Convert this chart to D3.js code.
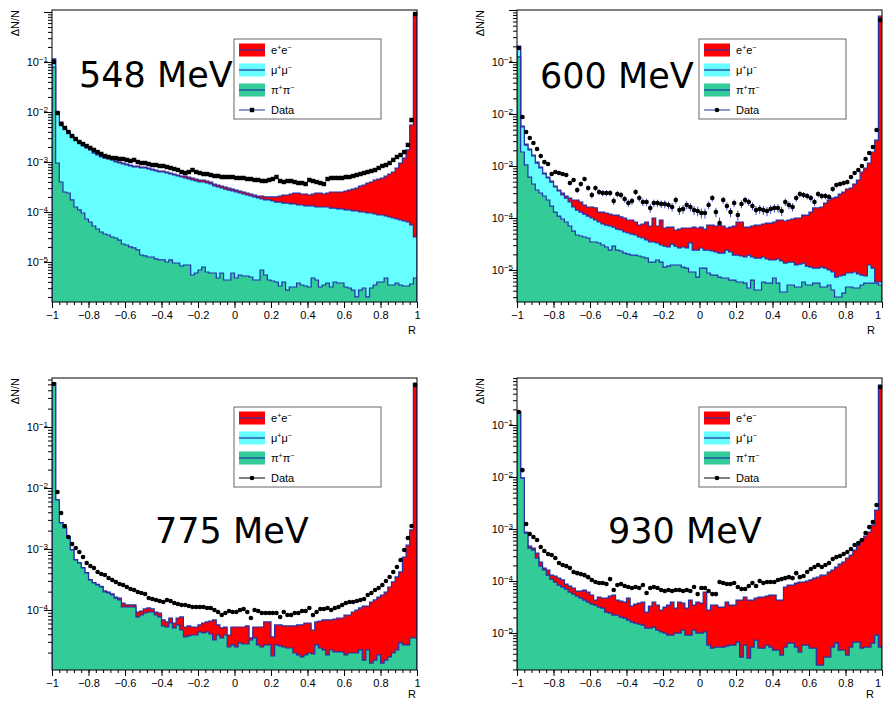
<!DOCTYPE html>
<html><head><meta charset="utf-8">
<script src="https://cdn.jsdelivr.net/npm/d3@7/dist/d3.min.js"></script>
<style>body{margin:0;background:#fff}svg{display:block}</style>
</head><body>
<svg id="c" width="883" height="701"></svg>
<script>
// ---------- binning / axis categories ----------
const nBins = 100, rLow = -1, rHigh = 1;
const xTickValues = [-1,-0.8,-0.6,-0.4,-0.2,0,0.2,0.4,0.6,0.8,1];
const xTickLabels = ["\u22121","\u22120.8","\u22120.6","\u22120.4","\u22120.2","0","0.2","0.4","0.6","0.8","1"];
const legendNames = [["e","+","e","\u2212"],["\u03bc","+","\u03bc","\u2212"],["\u03c0","+","\u03c0","\u2212"],["Data"]];
const energyLabels = ["548 MeV","600 MeV","775 MeV","930 MeV"];

// ---------- 548 MeV (stack tops as drawn: pi+pi-, +mu+mu-, +e+e-) ----------
const pipi548 = [0.079,9.55e-4,3.98e-4,2.51e-4,2.40e-4,1.74e-4,1.26e-4,1.10e-4,9.55e-5,7.24e-5,
 6.31e-5,5.25e-5,4.57e-5,3.98e-5,3.63e-5,3.47e-5,3.16e-5,3.02e-5,2.75e-5,2.29e-5,
 2.19e-5,2.00e-5,1.91e-5,1.74e-5,1.38e-5,1.32e-5,1.26e-5,1.26e-5,1.15e-5,1.10e-5,
 1.10e-5,1.00e-5,1.10e-5,9.55e-6,9.55e-6,8.32e-6,8.71e-6,8.71e-6,5.50e-6,6.03e-6,
 6.92e-6,7.94e-6,6.31e-6,6.03e-6,6.03e-6,4.79e-6,6.03e-6,4.37e-6,4.37e-6,6.03e-6,
 4.79e-6,5.50e-6,5.25e-6,5.25e-6,5.01e-6,4.37e-6,4.37e-6,6.92e-6,5.50e-6,4.37e-6,
 4.17e-6,3.98e-6,3.31e-6,3.98e-6,2.75e-6,3.16e-6,3.16e-6,3.80e-6,3.47e-6,3.31e-6,
 3.16e-6,4.79e-6,4.37e-6,3.16e-6,3.47e-6,3.80e-6,3.16e-6,3.98e-6,3.80e-6,3.80e-6,
 3.16e-6,3.02e-6,2.75e-6,2.00e-6,2.75e-6,3.02e-6,2.00e-6,3.02e-6,3.47e-6,3.98e-6,
 3.98e-6,4.79e-6,3.47e-6,3.47e-6,3.80e-6,3.47e-6,3.31e-6,3.31e-6,3.63e-6,4.79e-6];
const pipiMumu548 = [0.110,9.55e-3,6.03e-3,4.79e-3,3.80e-3,3.16e-3,2.75e-3,2.40e-3,2.09e-3,1.91e-3,
 1.74e-3,1.51e-3,1.38e-3,1.26e-3,1.20e-3,1.15e-3,1.10e-3,1.00e-3,9.55e-4,9.12e-4,
 8.71e-4,8.32e-4,7.94e-4,7.94e-4,7.59e-4,7.59e-4,7.24e-4,6.92e-4,6.61e-4,6.31e-4,
 6.31e-4,6.03e-4,5.75e-4,5.50e-4,5.25e-4,5.01e-4,4.79e-4,4.57e-4,4.37e-4,4.17e-4,
 3.98e-4,3.98e-4,3.80e-4,3.63e-4,3.31e-4,3.16e-4,3.02e-4,2.88e-4,2.75e-4,2.63e-4,
 2.51e-4,2.40e-4,2.29e-4,2.19e-4,2.09e-4,2.00e-4,1.91e-4,1.82e-4,1.74e-4,1.74e-4,
 1.66e-4,1.58e-4,1.58e-4,1.51e-4,1.51e-4,1.45e-4,1.45e-4,1.38e-4,1.38e-4,1.32e-4,
 1.32e-4,1.32e-4,1.26e-4,1.26e-4,1.26e-4,1.26e-4,1.20e-4,1.20e-4,1.15e-4,1.15e-4,
 1.10e-4,1.10e-4,1.05e-4,1.05e-4,1.00e-4,1.00e-4,9.55e-5,9.55e-5,9.12e-5,8.71e-5,
 8.71e-5,8.32e-5,7.94e-5,7.59e-5,7.24e-5,6.92e-5,6.61e-5,6.31e-5,5.50e-5,3.16e-5];
const total548 = [0.115,1.00e-2,6.31e-3,5.01e-3,3.98e-3,3.31e-3,2.88e-3,2.51e-3,2.19e-3,2.00e-3,
 1.82e-3,1.58e-3,1.45e-3,1.32e-3,1.26e-3,1.20e-3,1.15e-3,1.05e-3,1.00e-3,9.55e-4,
 9.12e-4,8.71e-4,8.32e-4,8.32e-4,7.94e-4,7.94e-4,7.59e-4,7.24e-4,6.92e-4,6.61e-4,
 6.61e-4,6.31e-4,6.03e-4,5.75e-4,5.50e-4,5.25e-4,5.25e-4,5.01e-4,4.79e-4,4.57e-4,
 4.37e-4,4.37e-4,4.17e-4,3.98e-4,3.63e-4,3.47e-4,3.31e-4,3.16e-4,3.02e-4,2.88e-4,
 2.75e-4,2.63e-4,2.51e-4,2.40e-4,2.29e-4,2.19e-4,2.09e-4,2.09e-4,2.00e-4,2.00e-4,
 2.00e-4,2.00e-4,2.09e-4,2.19e-4,2.19e-4,2.29e-4,2.40e-4,2.40e-4,2.29e-4,2.29e-4,
 2.19e-4,2.29e-4,2.40e-4,2.40e-4,2.29e-4,2.40e-4,2.51e-4,2.51e-4,2.51e-4,2.51e-4,
 2.63e-4,2.75e-4,2.88e-4,3.02e-4,3.31e-4,3.47e-4,3.80e-4,3.98e-4,4.37e-4,4.57e-4,
 4.79e-4,5.25e-4,5.75e-4,6.31e-4,7.59e-4,9.55e-4,1.20e-3,1.74e-3,5.50e-3,0.912];
const data548 = [0.100,9.55e-3,5.75e-3,4.79e-3,3.98e-3,3.31e-3,2.88e-3,2.51e-3,2.29e-3,2.09e-3,
 1.91e-3,1.74e-3,1.58e-3,1.45e-3,1.32e-3,1.26e-3,1.20e-3,1.20e-3,1.15e-3,1.15e-3,
 1.10e-3,1.05e-3,1.10e-3,1.00e-3,9.55e-4,9.55e-4,9.12e-4,8.71e-4,8.71e-4,8.32e-4,
 8.32e-4,7.94e-4,7.59e-4,7.24e-4,6.92e-4,6.31e-4,6.03e-4,6.31e-4,6.92e-4,6.31e-4,
 6.03e-4,5.75e-4,5.75e-4,5.50e-4,5.25e-4,5.25e-4,5.01e-4,5.01e-4,5.01e-4,5.01e-4,
 4.79e-4,4.79e-4,4.79e-4,4.57e-4,4.57e-4,4.37e-4,4.37e-4,4.17e-4,4.17e-4,4.37e-4,
 4.57e-4,5.01e-4,4.17e-4,3.98e-4,4.17e-4,4.17e-4,3.98e-4,3.80e-4,3.80e-4,3.63e-4,
 4.37e-4,4.17e-4,3.98e-4,3.80e-4,3.63e-4,4.57e-4,4.79e-4,4.79e-4,4.79e-4,4.79e-4,
 5.01e-4,5.01e-4,5.25e-4,5.50e-4,5.75e-4,6.03e-4,6.31e-4,6.61e-4,6.92e-4,7.59e-4,
 8.32e-4,8.71e-4,9.55e-4,1.10e-3,1.26e-3,1.38e-3,1.58e-3,2.19e-3,6.92e-3,0.912];

// ---------- 600 MeV ----------
const pipi600 = [0.125,1.86e-3,1.05e-3,6.14e-4,4.51e-4,3.46e-4,3.03e-4,2.65e-4,2.22e-4,1.70e-4,
 1.30e-4,1.09e-4,9.57e-5,8.38e-5,7.02e-5,5.62e-5,4.71e-5,4.51e-5,4.31e-5,4.13e-5,
 3.46e-5,3.46e-5,3.31e-5,3.03e-5,2.77e-5,2.42e-5,2.89e-5,2.42e-5,2.32e-5,2.12e-5,
 2.03e-5,1.94e-5,1.94e-5,1.86e-5,1.78e-5,1.70e-5,1.42e-5,1.42e-5,1.56e-5,1.42e-5,
 1.14e-5,1.19e-5,1.25e-5,1.25e-5,1.25e-5,1.14e-5,1.09e-5,9.15e-6,9.15e-6,7.33e-6,
 1.09e-5,1.09e-5,8.76e-6,8.01e-6,8.01e-6,7.33e-6,7.02e-6,7.02e-6,6.42e-6,6.42e-6,
 5.88e-6,5.88e-6,5.62e-6,4.51e-6,6.42e-6,4.13e-6,4.13e-6,5.88e-6,5.62e-6,5.62e-6,
 7.02e-6,5.62e-6,3.78e-6,3.78e-6,5.15e-6,5.15e-6,4.71e-6,4.71e-6,5.88e-6,5.15e-6,
 5.15e-6,5.62e-6,5.62e-6,4.71e-6,4.71e-6,5.15e-6,4.13e-6,3.03e-6,3.03e-6,3.61e-6,
 4.71e-6,4.71e-6,4.51e-6,4.51e-6,5.15e-6,5.62e-6,5.62e-6,5.62e-6,5.62e-6,5.15e-6];
const pipiMumu600 = [0.194,5.62e-3,2.53e-3,2.03e-3,1.56e-3,1.14e-3,9.15e-4,7.02e-4,5.88e-4,4.92e-4,
 3.95e-4,3.31e-4,2.77e-4,2.42e-4,2.03e-4,1.63e-4,1.42e-4,1.30e-4,1.19e-4,1.09e-4,
 1.00e-4,9.15e-5,8.38e-5,7.67e-5,7.33e-5,7.02e-5,6.71e-5,6.14e-5,5.88e-5,5.38e-5,
 5.15e-5,4.92e-5,4.71e-5,4.31e-5,4.13e-5,3.78e-5,3.46e-5,3.46e-5,3.31e-5,3.03e-5,
 2.89e-5,2.77e-5,3.16e-5,2.89e-5,2.65e-5,2.77e-5,2.65e-5,3.31e-5,2.42e-5,2.42e-5,
 2.65e-5,2.42e-5,2.42e-5,2.32e-5,2.22e-5,2.12e-5,2.12e-5,2.42e-5,2.22e-5,1.94e-5,
 1.94e-5,1.86e-5,1.78e-5,1.94e-5,1.78e-5,1.70e-5,1.70e-5,1.78e-5,1.63e-5,1.56e-5,
 1.56e-5,1.63e-5,1.49e-5,1.36e-5,1.42e-5,1.42e-5,1.25e-5,1.30e-5,1.36e-5,1.19e-5,
 1.14e-5,1.09e-5,1.09e-5,1.14e-5,1.09e-5,1.00e-5,9.15e-6,7.33e-6,7.67e-6,8.01e-6,
 8.76e-6,8.76e-6,9.15e-6,8.38e-6,8.01e-6,7.67e-6,1.25e-5,1.09e-5,5.88e-6,5.88e-6];
const total600 = [0.203,5.88e-3,2.65e-3,2.12e-3,1.63e-3,1.19e-3,9.57e-4,7.33e-4,6.14e-4,5.15e-4,
 4.13e-4,3.46e-4,3.03e-4,2.65e-4,2.42e-4,2.22e-4,2.22e-4,2.03e-4,1.78e-4,1.63e-4,
 1.63e-4,1.56e-4,1.30e-4,1.30e-4,1.25e-4,1.19e-4,1.14e-4,1.14e-4,1.05e-4,1.00e-4,
 9.15e-5,9.15e-5,8.38e-5,7.33e-5,7.67e-5,8.38e-5,7.02e-5,1.00e-4,7.02e-5,9.15e-5,
 6.42e-5,6.71e-5,6.71e-5,5.88e-5,6.14e-5,6.42e-5,6.42e-5,6.42e-5,6.71e-5,6.42e-5,
 6.71e-5,6.14e-5,7.33e-5,7.33e-5,7.02e-5,7.33e-5,7.02e-5,6.42e-5,6.71e-5,7.02e-5,
 8.38e-5,8.38e-5,6.71e-5,6.71e-5,7.02e-5,7.33e-5,7.33e-5,7.67e-5,8.01e-5,8.01e-5,
 8.38e-5,9.15e-5,9.15e-5,8.76e-5,9.15e-5,9.57e-5,1.00e-4,1.00e-4,1.14e-4,1.14e-4,
 1.30e-4,1.56e-4,1.56e-4,1.63e-4,1.94e-4,2.22e-4,2.42e-4,2.53e-4,2.89e-4,3.16e-4,
 3.61e-4,3.78e-4,4.51e-4,5.38e-4,7.67e-4,9.15e-4,1.14e-3,1.86e-3,3.16e-3,0.767];
const data600 = [0.186,8.76e-3,4.51e-3,3.46e-3,2.77e-3,2.12e-3,1.56e-3,1.19e-3,1.09e-3,7.02e-4,
 7.67e-4,7.33e-4,7.02e-4,6.71e-4,4.71e-4,5.38e-4,3.46e-4,4.51e-4,5.62e-4,3.78e-4,
 2.77e-4,3.78e-4,3.16e-4,3.03e-4,3.03e-4,3.03e-4,2.12e-4,2.89e-4,2.77e-4,2.32e-4,
 1.94e-4,2.12e-4,3.16e-4,2.42e-4,2.03e-4,2.03e-4,1.56e-4,1.94e-4,1.94e-4,1.86e-4,
 1.86e-4,1.78e-4,1.63e-4,2.22e-4,1.42e-4,1.49e-4,1.78e-4,1.63e-4,1.42e-4,1.36e-4,
 1.25e-4,1.25e-4,1.78e-4,2.42e-4,1.30e-4,8.01e-5,2.22e-4,1.70e-4,1.30e-4,1.94e-4,
 1.14e-4,1.86e-4,2.22e-4,2.03e-4,1.70e-4,1.42e-4,1.49e-4,1.42e-4,1.36e-4,1.49e-4,
 1.56e-4,1.56e-4,1.36e-4,2.03e-4,1.78e-4,1.63e-4,2.42e-4,2.89e-4,2.77e-4,2.65e-4,
 2.42e-4,2.03e-4,2.89e-4,2.65e-4,2.65e-4,2.53e-4,3.61e-4,4.31e-4,4.51e-4,4.71e-4,
 4.92e-4,6.14e-4,7.33e-4,8.38e-4,1.00e-3,1.36e-3,1.78e-3,2.32e-3,4.92e-3,0.642];
const dataErr600 = [0.003,2e-4,1.5e-4,1.3e-4,1.2e-4,1.1e-4,9e-5,8e-5,8e-5,6e-5,
 6e-5,6e-5,6e-5,6e-5,5e-5,5e-5,4.5e-5,5e-5,5.5e-5,4.5e-5,
 4e-5,4.5e-5,4e-5,4e-5,4e-5,4e-5,3.5e-5,4e-5,4e-5,3.5e-5,
 3.2e-5,3.4e-5,4e-5,3.6e-5,3.3e-5,3.3e-5,3e-5,3.2e-5,3.2e-5,3.2e-5,
 3.2e-5,3.1e-5,3e-5,3.5e-5,2.8e-5,2.9e-5,3.1e-5,3e-5,2.8e-5,2.8e-5,
 2.7e-5,2.7e-5,3.1e-5,3.6e-5,2.7e-5,2.2e-5,3.4e-5,3e-5,2.7e-5,3.2e-5,
 2.5e-5,3.2e-5,3.4e-5,3.3e-5,3e-5,2.8e-5,2.9e-5,2.8e-5,2.8e-5,2.9e-5,
 2.9e-5,2.9e-5,2.8e-5,3.3e-5,3.1e-5,3e-5,3.6e-5,3.9e-5,3.8e-5,3.7e-5,
 3.6e-5,3.3e-5,3.9e-5,3.7e-5,3.7e-5,3.6e-5,4.3e-5,4.7e-5,4.8e-5,4.9e-5,
 5e-5,5.6e-5,6e-5,6.5e-5,7e-5,8e-5,9e-5,1e-4,1.5e-4,0.002];

// ---------- 775 MeV (no visible mu+mu- layer) ----------
const pipi775 = [0.526,6.36e-3,2.67e-3,2.21e-3,1.57e-3,9.63e-4,6.60e-4,5.90e-4,4.88e-4,4.04e-4,
 3.10e-4,2.77e-4,2.57e-4,2.38e-4,1.97e-4,1.90e-4,1.76e-4,1.57e-4,1.46e-4,1.12e-4,
 1.12e-4,1.12e-4,1.12e-4,7.68e-5,8.28e-5,8.93e-5,9.27e-5,9.27e-5,8.28e-5,7.68e-5,
 5.47e-5,5.26e-5,6.12e-5,5.07e-5,5.68e-5,4.70e-5,3.61e-5,3.75e-5,3.89e-5,3.89e-5,
 4.36e-5,4.20e-5,4.36e-5,4.04e-5,3.22e-5,3.89e-5,3.48e-5,3.89e-5,2.47e-5,2.67e-5,
 2.47e-5,2.88e-5,2.77e-5,2.77e-5,3.22e-5,3.48e-5,2.67e-5,2.47e-5,2.67e-5,2.67e-5,
 1.76e-5,2.67e-5,2.57e-5,2.47e-5,2.38e-5,2.38e-5,1.97e-5,1.83e-5,1.70e-5,1.83e-5,
 1.97e-5,1.90e-5,2.67e-5,2.38e-5,2.21e-5,1.83e-5,2.21e-5,2.05e-5,2.05e-5,2.05e-5,
 1.83e-5,1.97e-5,1.97e-5,1.97e-5,2.21e-5,1.51e-5,2.21e-5,1.35e-5,1.51e-5,1.83e-5,
 1.35e-5,1.51e-5,1.70e-5,1.97e-5,2.21e-5,2.88e-5,2.67e-5,2.67e-5,3.48e-5,3.48e-5];
const total775 = [0.530,6.40e-3,2.70e-3,2.23e-3,1.59e-3,9.80e-4,6.70e-4,6.00e-4,4.95e-4,4.10e-4,
 3.15e-4,2.82e-4,2.62e-4,2.43e-4,2.05e-4,1.97e-4,1.83e-4,1.63e-4,1.57e-4,1.30e-4,
 1.21e-4,1.21e-4,1.21e-4,9.27e-5,9.63e-5,1.04e-4,1.08e-4,1.04e-4,9.27e-5,8.93e-5,
 6.86e-5,6.36e-5,7.39e-5,6.12e-5,7.39e-5,7.68e-5,5.26e-5,5.47e-5,5.26e-5,5.26e-5,
 5.68e-5,6.12e-5,6.36e-5,6.60e-5,6.86e-5,5.68e-5,5.07e-5,5.26e-5,3.89e-5,5.26e-5,
 5.26e-5,5.26e-5,5.26e-5,5.47e-5,3.48e-5,5.26e-5,5.26e-5,5.26e-5,6.36e-5,6.36e-5,
 3.61e-5,5.68e-5,5.68e-5,5.47e-5,5.47e-5,5.47e-5,5.47e-5,5.68e-5,5.68e-5,6.12e-5,
 6.12e-5,4.70e-5,6.36e-5,6.60e-5,6.86e-5,6.86e-5,6.86e-5,7.12e-5,7.39e-5,7.39e-5,
 8.28e-5,8.28e-5,9.27e-5,1.00e-4,1.08e-4,1.16e-4,1.16e-4,1.35e-4,1.46e-4,1.63e-4,
 1.76e-4,1.97e-4,2.38e-4,2.88e-4,3.48e-4,4.20e-4,7.39e-4,1.16e-3,2.05e-3,0.526];
const data775 = [0.507,8.60e-3,3.89e-3,2.38e-3,1.57e-3,1.21e-3,1.04e-3,8.93e-4,7.39e-4,5.90e-4,
 5.26e-4,4.88e-4,4.20e-4,3.89e-4,3.75e-4,3.35e-4,3.10e-4,2.88e-4,2.67e-4,2.57e-4,
 2.38e-4,2.21e-4,2.13e-4,1.97e-4,1.90e-4,1.83e-4,1.57e-4,1.51e-4,1.46e-4,1.40e-4,
 1.35e-4,1.46e-4,1.40e-4,1.30e-4,1.25e-4,1.21e-4,1.21e-4,1.16e-4,1.12e-4,1.12e-4,
 1.12e-4,1.12e-4,1.08e-4,1.08e-4,1.00e-4,9.27e-5,8.28e-5,8.93e-5,9.63e-5,9.27e-5,
 9.27e-5,1.00e-4,1.04e-4,9.27e-5,7.39e-5,1.00e-4,9.63e-5,8.93e-5,8.93e-5,8.93e-5,
 8.93e-5,8.93e-5,7.68e-5,9.27e-5,8.28e-5,8.28e-5,8.93e-5,8.93e-5,9.63e-5,9.63e-5,
 1.08e-4,8.28e-5,9.27e-5,1.04e-4,1.04e-4,1.08e-4,1.00e-4,1.08e-4,1.12e-4,1.21e-4,
 1.30e-4,1.35e-4,1.35e-4,1.40e-4,1.46e-4,1.51e-4,1.76e-4,1.90e-4,2.13e-4,2.29e-4,
 2.57e-4,2.99e-4,3.48e-4,4.20e-4,5.07e-4,6.60e-4,9.63e-4,1.51e-3,2.38e-3,0.488];

// ---------- 930 MeV (no visible mu+mu- layer) ----------
const pipi930 = [0.178,9.57e-3,8.38e-4,4.31e-4,3.95e-4,2.77e-4,1.94e-4,1.63e-4,1.30e-4,1.09e-4,
 9.57e-5,8.38e-5,7.67e-5,7.02e-5,6.14e-5,5.62e-5,5.15e-5,4.71e-5,4.31e-5,3.95e-5,
 3.61e-5,3.46e-5,3.16e-5,3.03e-5,2.53e-5,2.42e-5,2.22e-5,2.22e-5,2.03e-5,1.94e-5,
 1.78e-5,1.63e-5,1.56e-5,1.49e-5,1.42e-5,1.25e-5,1.25e-5,1.30e-5,1.14e-5,1.05e-5,
 1.00e-5,9.15e-6,9.15e-6,1.00e-5,1.00e-5,1.14e-5,9.15e-6,9.15e-6,1.14e-5,1.00e-5,
 1.00e-5,1.05e-5,5.88e-6,5.15e-6,5.38e-6,5.38e-6,5.38e-6,5.62e-6,5.88e-6,5.88e-6,
 6.71e-6,3.46e-6,5.88e-6,3.31e-6,5.38e-6,7.33e-6,5.15e-6,5.15e-6,5.88e-6,5.38e-6,
 4.71e-6,4.71e-6,3.78e-6,5.38e-6,6.42e-6,6.42e-6,5.38e-6,4.31e-6,5.88e-6,5.88e-6,
 5.15e-6,5.15e-6,2.42e-6,2.42e-6,3.46e-6,3.46e-6,5.38e-6,6.42e-6,4.71e-6,4.71e-6,
 3.78e-6,5.38e-6,6.71e-6,6.71e-6,5.15e-6,5.38e-6,5.38e-6,6.42e-6,9.15e-6,5.38e-6];
const total930 = [0.180,9.60e-3,8.76e-4,4.71e-4,4.31e-4,3.46e-4,2.32e-4,1.78e-4,1.63e-4,1.30e-4,
 1.25e-4,1.14e-4,1.05e-4,8.76e-5,8.01e-5,7.33e-5,6.42e-5,6.42e-5,6.71e-5,6.14e-5,
 5.38e-5,4.31e-5,4.92e-5,4.71e-5,4.71e-5,5.15e-5,5.38e-5,4.31e-5,4.13e-5,3.95e-5,
 4.71e-5,3.31e-5,3.61e-5,3.78e-5,3.95e-5,2.53e-5,3.31e-5,3.95e-5,3.46e-5,2.77e-5,
 3.16e-5,3.46e-5,3.95e-5,3.03e-5,3.95e-5,3.78e-5,3.03e-5,4.31e-5,3.46e-5,3.95e-5,
 3.78e-5,6.14e-5,2.77e-5,3.46e-5,3.46e-5,3.16e-5,3.16e-5,3.95e-5,3.46e-5,3.46e-5,
 4.31e-5,4.31e-5,4.92e-5,4.31e-5,4.31e-5,4.71e-5,4.92e-5,4.92e-5,5.15e-5,5.38e-5,
 5.38e-5,4.31e-5,4.31e-5,7.67e-5,8.38e-5,8.38e-5,9.15e-5,9.57e-5,9.57e-5,1.00e-4,
 1.05e-4,1.14e-4,1.19e-4,1.30e-4,1.30e-4,1.49e-4,1.63e-4,1.86e-4,2.12e-4,2.32e-4,
 2.77e-4,3.16e-4,3.95e-4,4.92e-4,6.14e-4,7.33e-4,8.76e-4,1.19e-3,2.32e-3,0.588];
const data930 = [0.178,1.36e-2,1.25e-3,8.01e-4,7.02e-4,6.14e-4,4.51e-4,3.78e-4,3.31e-4,3.16e-4,
 2.77e-4,2.22e-4,2.03e-4,1.94e-4,1.78e-4,1.49e-4,1.42e-4,1.36e-4,1.30e-4,1.19e-4,
 1.05e-4,9.57e-5,9.15e-5,9.15e-5,8.76e-5,1.09e-4,6.71e-5,8.38e-5,8.76e-5,8.01e-5,
 7.67e-5,7.33e-5,7.67e-5,7.33e-5,8.38e-5,5.88e-5,7.33e-5,7.67e-5,7.33e-5,6.71e-5,
 6.42e-5,6.71e-5,6.42e-5,6.71e-5,6.71e-5,6.42e-5,6.71e-5,6.42e-5,7.67e-5,5.62e-5,
 7.33e-5,7.33e-5,6.42e-5,5.62e-5,5.62e-5,9.57e-5,9.15e-5,8.76e-5,8.76e-5,9.15e-5,
 7.67e-5,7.02e-5,7.02e-5,8.01e-5,9.15e-5,8.01e-5,1.00e-4,9.15e-5,9.57e-5,9.57e-5,
 9.57e-5,1.05e-4,1.09e-4,1.14e-4,1.19e-4,1.14e-4,1.42e-4,1.19e-4,1.25e-4,1.49e-4,
 1.70e-4,1.86e-4,2.03e-4,1.86e-4,2.03e-4,2.22e-4,2.65e-4,2.89e-4,3.03e-4,3.31e-4,
 3.61e-4,4.13e-4,4.92e-4,5.38e-4,6.14e-4,8.38e-4,1.09e-3,1.36e-3,2.89e-3,0.538];

// ---------- layout / style ----------
const COL = {ee:"#ff0000", mumu:"#66ffff", pipi:"#33cc99", line:"#2333a8", err:"#3a4ad0"};
const panels = [
 {pipi:pipi548, mid:pipiMumu548, total:total548, data:data548, err:null, marker:"square",
  f:{x:52,y:10,w:365,h:292}, logMin:-5.8, logMax:0.04, title:{x:79,y:87}, leg:{x:234,y:39}, dataLine:COL.line, rY:334, rX:416},
 {pipi:pipi600, mid:pipiMumu600, total:total600, data:data600, err:dataErr600, marker:"circle",
  f:{x:517,y:10,w:365,h:292}, logMin:-5.615, logMax:0.0, title:{x:540,y:88}, leg:{x:699,y:39}, dataLine:COL.line, rY:334, rX:875},
 {pipi:pipi775, mid:null, total:total775, data:data775, err:null, marker:"circle",
  f:{x:52,y:378,w:365,h:292}, logMin:-4.984, logMax:-0.197, title:{x:155,y:543}, leg:{x:234,y:407}, dataLine:"#000", rY:698, rX:416},
 {pipi:pipi930, mid:null, total:total930, data:data930, err:null, marker:"circle",
  f:{x:517,y:378,w:365,h:292}, logMin:-5.71, logMax:-0.096, title:{x:608,y:543}, leg:{x:699,y:407}, dataLine:"#000", rY:698, rX:874}
];

const svg = d3.select("#c");
const defs = svg.append("defs");
const FONT = "'Liberation Sans', Arial, Helvetica, sans-serif";
const binW = (rHigh - rLow) / nBins;
const W = 883;

panels.forEach((p, pi) => {
  const f = p.f;
  const x = d3.scaleLinear().domain([rLow, rHigh]).range([f.x, f.x + f.w]);
  const y = d3.scaleLog().domain([Math.pow(10, p.logMin), Math.pow(10, p.logMax)])
              .range([f.y + f.h, f.y]).clamp(true);
  const base = f.y + f.h;
  const g = svg.append("g");

  defs.append("clipPath").attr("id", "clip" + pi).append("rect")
      .attr("x", f.x).attr("y", f.y - 1).attr("width", f.w).attr("height", f.h + 1);
  const plot = g.append("g").attr("clip-path", `url(#clip${pi})`);

  function layer(vals, fill) {
    const pts = [[x(rLow), base]];
    vals.forEach((v, i) => {
      const a = rLow + i * binW, b = a + binW;
      pts.push([x(a), y(v)], [x(b), y(v)]);
    });
    pts.push([x(rHigh), base]);
    const line = d3.line();
    plot.append("path").attr("d", line(pts) + "Z").attr("fill", fill).attr("stroke", "none");
    plot.append("path").attr("d", line(pts)).attr("fill", "none")
        .attr("stroke", COL.line).attr("stroke-width", 1.2);
  }
  layer(p.total, COL.ee);
  if (p.mid) layer(p.mid, COL.mumu);
  layer(p.pipi, COL.pipi);

  // data points
  const centers = p.data.map((v, i) => ({c: rLow + (i + 0.5) * binW, v, e: p.err ? p.err[i] : 0}));
  if (p.err) {
    g.selectAll(null).data(centers).enter().append("line")
      .attr("x1", d => x(d.c)).attr("x2", d => x(d.c))
      .attr("y1", d => y(Math.max(d.v - d.e, Math.pow(10, p.logMin))))
      .attr("y2", d => y(d.v + d.e))
      .attr("stroke", COL.err).attr("stroke-width", 1);
  }
  if (p.marker === "square") {
    g.selectAll(null).data(centers).enter().append("rect")
      .attr("x", d => x(d.c) - 2.2).attr("y", d => y(d.v) - 2.2)
      .attr("width", 4.4).attr("height", 4.4).attr("fill", "#000");
  } else {
    g.selectAll(null).data(centers).enter().append("circle")
      .attr("cx", d => x(d.c)).attr("cy", d => y(d.v)).attr("r", 2.3).attr("fill", "#000");
  }

  // frame
  g.append("rect").attr("x", f.x).attr("y", f.y).attr("width", f.w).attr("height", f.h)
    .attr("fill", "none").attr("stroke", "#000").attr("stroke-width", 1);

  // x axis (ticks below)
  const minorX = d3.range(-1, 1.0001, 0.04).map(v => +v.toFixed(2));
  const ax1 = g.append("g").attr("transform", `translate(0,${base})`)
    .call(d3.axisBottom(x).tickValues(minorX).tickFormat("").tickSizeInner(3).tickSizeOuter(0));
  const ax2 = g.append("g").attr("transform", `translate(0,${base})`)
    .call(d3.axisBottom(x).tickValues(xTickValues).tickFormat((d, i) => xTickLabels[i])
          .tickSizeInner(6).tickSizeOuter(0).tickPadding(3));
  [ax1, ax2].forEach(a => { a.select(".domain").remove(); a.selectAll("line").attr("stroke", "#000"); });
  ax2.selectAll("text").attr("font-family", FONT).attr("font-size", 11).attr("fill", "#000");
  if (f.x + f.w > W - 6) {
    ax2.selectAll("text").filter(d => d === rHigh).attr("text-anchor", "end").attr("dx", -1.5);
  }

  g.append("text").attr("x", p.rX).attr("y", p.rY).attr("text-anchor", "end")
    .attr("font-family", FONT).attr("font-size", 11).text("R");

  // y axis (log)
  const majors = [], minors = [];
  for (let d = Math.floor(p.logMin); d <= Math.ceil(p.logMax); d++) {
    for (let k = 1; k <= 9; k++) {
      const v = k * Math.pow(10, d);
      const lv = Math.log10(v);
      if (lv < p.logMin - 1e-9 || lv > p.logMax + 1e-9) continue;
      (k === 1 ? majors : minors).push(v);
    }
  }
  const ay1 = g.append("g").attr("transform", `translate(${f.x},0)`)
    .call(d3.axisLeft(y).tickValues(minors).tickFormat("").tickSizeInner(4).tickSizeOuter(0));
  const ay2 = g.append("g").attr("transform", `translate(${f.x},0)`)
    .call(d3.axisLeft(y).tickValues(majors).tickFormat("").tickSizeInner(8).tickSizeOuter(0));
  [ay1, ay2].forEach(a => { a.select(".domain").remove(); a.selectAll("line").attr("stroke", "#000"); });
  majors.forEach(v => {
    const e = Math.round(Math.log10(v));
    if (e >= 0) return;
    const t = g.append("text").attr("x", f.x - 4).attr("y", y(v) + 4).attr("text-anchor", "end")
      .attr("font-family", FONT).attr("font-size", 11).attr("fill", "#000");
    t.append("tspan").text("10");
    t.append("tspan").attr("dy", -4).attr("font-size", 8).text("\u2212" + (-e));
  });
  g.append("text").attr("transform", `translate(${f.x - 33},${f.y}) rotate(-90)`)
    .attr("text-anchor", "end").attr("font-family", FONT).attr("font-size", 11).text("\u0394N/N");

  // energy label
  g.append("text").attr("x", p.title.x).attr("y", p.title.y)
    .attr("font-family", "'DejaVu Sans', sans-serif").attr("font-size", 35).attr("fill", "#000")
    .text(energyLabels[pi]);

  // legend
  const L = p.leg, lw = 147, lh = 80;
  const lg = g.append("g");
  lg.append("rect").attr("x", L.x).attr("y", L.y).attr("width", lw).attr("height", lh)
    .attr("fill", "#fff").attr("stroke", "#666").attr("stroke-width", 1);
  const fills = [COL.ee, COL.mumu, COL.pipi];
  legendNames.forEach((nm, k) => {
    const cy = L.y + 11 + k * 20;
    if (k < 3) {
      lg.append("rect").attr("x", L.x + 5).attr("y", cy - 6.5).attr("width", 26).attr("height", 13)
        .attr("fill", fills[k]);
      lg.append("line").attr("x1", L.x + 5).attr("x2", L.x + 31).attr("y1", cy).attr("y2", cy)
        .attr("stroke", COL.line).attr("stroke-width", 1.2);
    } else {
      lg.append("line").attr("x1", L.x + 5).attr("x2", L.x + 31).attr("y1", cy).attr("y2", cy)
        .attr("stroke", p.dataLine).attr("stroke-width", 1);
      if (p.marker === "square")
        lg.append("rect").attr("x", L.x + 18 - 2.2).attr("y", cy - 2.2).attr("width", 4.4).attr("height", 4.4).attr("fill", "#000");
      else
        lg.append("circle").attr("cx", L.x + 18).attr("cy", cy).attr("r", 2.3).attr("fill", "#000");
    }
    const t = lg.append("text").attr("x", L.x + 37).attr("y", cy + 4)
      .attr("font-family", FONT).attr("font-size", 11).attr("fill", "#000");
    if (nm.length === 1) t.text(nm[0]);
    else {
      t.append("tspan").text(nm[0]);
      t.append("tspan").attr("dy", -4).attr("font-size", 7).text(nm[1]);
      t.append("tspan").attr("dy", 4).text(nm[2]);
      t.append("tspan").attr("dy", -4).attr("font-size", 7).text(nm[3]);
    }
  });
});
</script>
</body></html>
